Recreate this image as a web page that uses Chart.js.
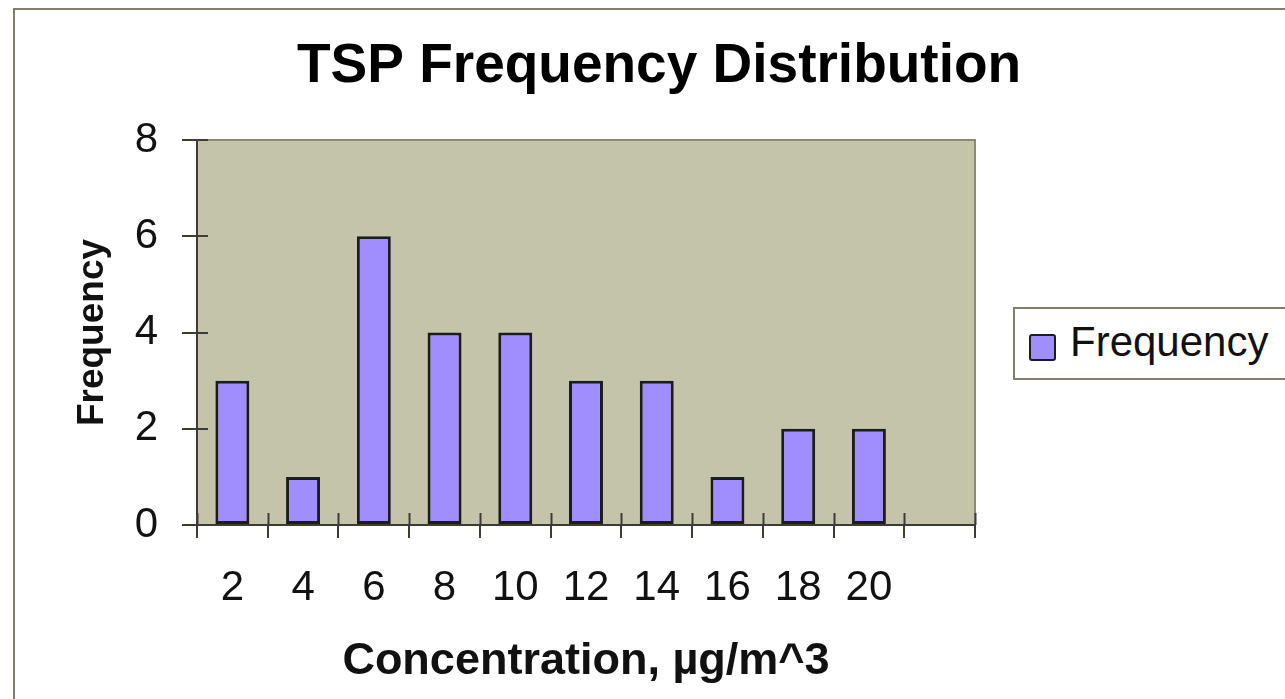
<!DOCTYPE html>
<html lang="en">
<head>
<meta charset="UTF-8">
<title>TSP Frequency Distribution</title>
<style>
    html, body { margin: 0; padding: 0; background: #fff; overflow: hidden; width: 1285px; height: 699px; }
    #frame {
        position: absolute; left: 13px; top: 8px;
        width: 1300px; height: 720px;
        border: 2px solid #7f7f6c;
        background: #fff;
    }
    #chart { position: absolute; left: 0; top: 0; }
    #legendBox {
        position: absolute; left: 1013px; top: 307px;
        width: 300px; height: 69px;
        border: 2px solid #7f7f6c;
        background: #fff;
        font-family: "Liberation Sans", Arial, sans-serif;
        font-size: 42px; color: #111;
    }
    #legendBox .swatch {
        position: absolute; left: 14px; top: 25px;
        width: 23px; height: 23px;
        border: 2px solid #1c1c1c; border-radius: 3px;
    }
    #legendBox .label { position: absolute; left: 55px; top: 9px; }
</style>
</head>
<body>
<div id="frame">
    <canvas id="chart" width="1288" height="700"></canvas>
</div>
<div id="legendBox"><span class="swatch"></span><span class="label"></span></div>

<script src="https://cdn.jsdelivr.net/npm/chart.js"></script>
<script>
    // data
    const concentrationBins = ['2', '4', '6', '8', '10', '12', '14', '16', '18', '20', ''];
    const frequencies = [3, 1, 6, 4, 4, 3, 3, 1, 2, 2, null];
    const yTicks = [0, 2, 4, 6, 8];

    const seriesName = 'Frequency';
    const barColor = '#a08eff';
    const plotColor = '#c4c4aa';
    const fontFamily = '"Liberation Sans", Arial, sans-serif';

    // html legend
    document.querySelector('#legendBox .swatch').style.background = barColor;
    document.querySelector('#legendBox .label').textContent = seriesName;

    // plot area fill + top/right border
    const plotAreaPlugin = {
        id: 'plotArea',
        beforeDraw(chart) {
            const { ctx, chartArea: a } = chart;
            ctx.save();
            ctx.fillStyle = plotColor;
            ctx.fillRect(a.left, a.top, a.right - a.left, a.bottom - a.top);
            ctx.strokeStyle = '#8a8a74';
            ctx.lineWidth = 2;
            ctx.beginPath();
            ctx.moveTo(a.left, a.top);
            ctx.lineTo(a.right, a.top);
            ctx.lineTo(a.right, a.bottom);
            ctx.stroke();
            ctx.restore();
        },
        // inner half of the cross tick marks
        beforeDatasetsDraw(chart) {
            const { ctx } = chart;
            const x = chart.scales.x, y = chart.scales.y;
            ctx.save();
            ctx.strokeStyle = '#3c3c34';
            ctx.lineWidth = 2;
            ctx.beginPath();
            const n = concentrationBins.length;
            const catW = (x.right - x.left) / n;
            for (let i = 0; i <= n; i++) {
                const px = Math.round(x.left + i * catW) + 0.5;
                ctx.moveTo(px, x.top);
                ctx.lineTo(px, x.top - 12);
            }
            y.ticks.forEach(t => {
                const py = Math.round(y.getPixelForValue(t.value));
                ctx.moveTo(y.right, py);
                ctx.lineTo(y.right + 11, py);
            });
            ctx.stroke();
            ctx.restore();
        }
    };

    new Chart(document.getElementById('chart').getContext('2d'), {
        type: 'bar',
        data: {
            labels: concentrationBins,
            datasets: [{
                label: seriesName,
                data: frequencies,
                backgroundColor: barColor,
                borderColor: '#1c1c1c',
                borderWidth: 3,
                borderSkipped: false,
                categoryPercentage: 1.0,
                barPercentage: 0.48
            }]
        },
        options: {
            responsive: false,
            animation: false,
            layout: { padding: 0 },
            plugins: {
                legend: { display: false },
                tooltip: { enabled: false },
                title: {
                    display: true,
                    text: 'TSP Frequency Distribution',
                    color: '#000',
                    font: { family: fontFamily, size: 55, weight: 'bold' },
                    padding: { top: 24, bottom: 40 }
                }
            },
            scales: {
                x: {
                    grid: { drawOnChartArea: false, drawTicks: true, tickLength: 13, color: '#3c3c34', lineWidth: 2, offset: true },
                    border: { display: true, color: '#3c3c34', width: 2 },
                    ticks: { color: '#111', font: { family: fontFamily, size: 42 }, padding: 25, maxRotation: 0, autoSkip: false },
                    title: {
                        display: true,
                        text: 'Concentration, µg/m^3',
                        color: '#111',
                        font: { family: fontFamily, size: 45, weight: 'bold' },
                        padding: { top: 0, bottom: 21 }
                    },
                    afterFit(scale) { scale.height = 185; }
                },
                y: {
                    min: 0,
                    max: 8,
                    afterBuildTicks(scale) { scale.ticks = yTicks.map(v => ({ value: v })); },
                    grid: { drawOnChartArea: false, drawTicks: true, tickLength: 15, color: '#3c3c34', lineWidth: 2 },
                    border: { display: true, color: '#3c3c34', width: 2 },
                    ticks: { color: '#111', font: { family: fontFamily, size: 42 }, padding: 24 },
                    title: {
                        display: true,
                        text: 'Frequency',
                        color: '#111',
                        font: { family: fontFamily, size: 37, weight: 'bold' },
                        padding: { top: 56, bottom: 0 }
                    },
                    afterFit(scale) { scale.width = 182; }
                },
                // empty space on the right where the legend sits
                legendSpace: {
                    type: 'linear',
                    position: 'right',
                    display: true,
                    grid: { display: false, drawTicks: false },
                    border: { display: false },
                    ticks: { display: false },
                    afterFit(scale) { scale.width = 328; }
                }
            }
        },
        plugins: [plotAreaPlugin]
    });
</script>
</body>
</html>
